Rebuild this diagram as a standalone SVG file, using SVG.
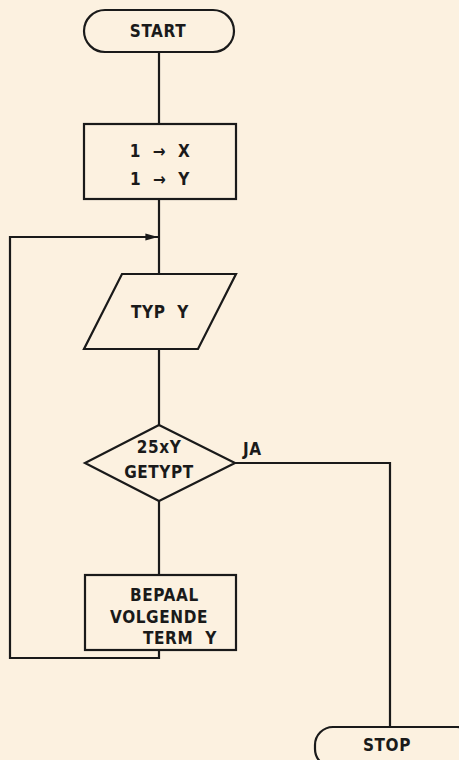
<svg xmlns="http://www.w3.org/2000/svg" width="459" height="760" viewBox="0 0 459 760">
<defs>
<marker id="ah" viewBox="0 0 14 10" refX="14" refY="5" markerWidth="14" markerHeight="9" markerUnits="userSpaceOnUse" orient="auto"><path d="M0,1 L14,5 L0,9 Z" fill="#1a1a1a"/></marker>
</defs>
<style>
.s{fill:none;stroke:#1a1a1a;stroke-width:2.2}
.t{font-family:"DejaVu Sans Condensed","DejaVu Sans","Liberation Sans",sans-serif;font-stretch:condensed;font-weight:bold;font-size:17px;fill:#1a1a1a;letter-spacing:0.6px;white-space:pre}
.c{text-anchor:middle}
</style>
<rect width="459" height="760" fill="#fcf1e0"/>
<g id="connectors">
<line class="s" x1="159" y1="52" x2="159" y2="124"/>
<line class="s" x1="159" y1="199" x2="159" y2="274"/>
<line class="s" x1="159" y1="349" x2="159" y2="425"/>
<line class="s" x1="159" y1="501" x2="159" y2="575"/>
<polyline class="s" points="159,650 159,658 10,658 10,237 158,237" marker-end="url(#ah)"/>
<polyline class="s" points="235,463 390,463 390,727"/>
<text class="t" x="243" y="455">JA</text>
</g>
<g id="start">
<rect class="s" x="84" y="10" width="150" height="42" rx="21"/>
<text class="t c" x="158" y="37">START</text>
</g>
<g id="init">
<rect class="s" x="84" y="124" width="152" height="75"/>
<text class="t c" x="160" y="157" xml:space="preserve">1  →  X</text>
<text class="t c" x="160" y="185" xml:space="preserve">1  →  Y</text>
</g>
<g id="typ">
<polygon class="s" points="122,274 236,274 198,349 84,349"/>
<text class="t c" x="160" y="318" xml:space="preserve">TYP  Y</text>
</g>
<g id="check">
<polygon class="s" points="159,425 235,463 159,501 85,463"/>
<text class="t c" x="159" y="453">25xY</text>
<text class="t c" x="159" y="478">GETYPT</text>
</g>
<g id="next">
<rect class="s" x="85" y="575" width="151" height="75"/>
<text class="t" x="130" y="601">BEPAAL</text>
<text class="t" x="110" y="623">VOLGENDE</text>
<text class="t" x="143" y="644" xml:space="preserve">TERM  Y</text>
</g>
<g id="stop">
<rect class="s" x="315" y="727" width="160" height="40" rx="18"/>
<text class="t c" x="387" y="751">STOP</text>
</g>
</svg>
